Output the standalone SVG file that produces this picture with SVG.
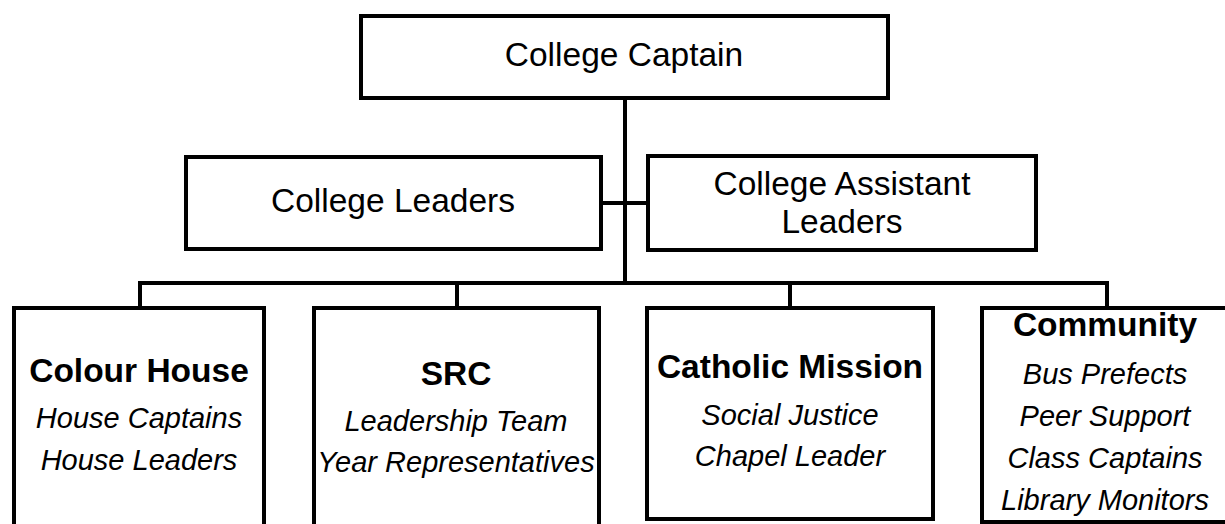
<svg xmlns="http://www.w3.org/2000/svg" width="1225" height="524" viewBox="0 0 1225 524">
<style>
.box{fill:#fff;stroke:#000;stroke-width:4}
.ln{stroke:#000;stroke-width:4;fill:none}
.t{font-family:"Liberation Sans",Arial,sans-serif;font-size:33.5px;fill:#000;text-anchor:middle}
.h{font-family:"Liberation Sans",Arial,sans-serif;font-size:33.5px;font-weight:bold;fill:#000;text-anchor:middle}
.i{font-family:"Liberation Sans",Arial,sans-serif;font-size:29px;font-style:italic;fill:#000;text-anchor:middle}
</style>
<rect width="1225" height="524" fill="#fff"/>
<g id="connectors">
<path class="ln" d="M625 97V283"/>
<path class="ln" d="M601 203H648"/>
<path class="ln" d="M140 308V283H1107V308"/>
<path class="ln" d="M457 283V308"/>
<path class="ln" d="M790 283V308"/>
</g>
<g id="college-captain">
<rect class="box" x="361" y="16" width="527" height="82"/>
<text class="t" x="624" y="66">College Captain</text>
</g>
<g id="college-leaders">
<rect class="box" x="186" y="157" width="415" height="92"/>
<text class="t" x="393" y="212">College Leaders</text>
</g>
<g id="college-assistant-leaders">
<rect class="box" x="648" y="156" width="388" height="94"/>
<text class="t" x="842" y="195">College Assistant</text>
<text class="t" x="842" y="233">Leaders</text>
</g>
<g id="colour-house">
<rect class="box" x="14" y="308" width="250" height="230"/>
<text class="h" x="139" y="382">Colour House</text>
<text class="i" x="139" y="428">House Captains</text>
<text class="i" x="139" y="470">House Leaders</text>
</g>
<g id="src">
<rect class="box" x="314" y="308" width="285" height="230"/>
<text class="h" x="456" y="385">SRC</text>
<text class="i" x="456" y="431">Leadership Team</text>
<text class="i" x="456" y="472">Year Representatives</text>
</g>
<g id="catholic-mission">
<rect class="box" x="647" y="308" width="286" height="211"/>
<text class="h" x="790" y="378">Catholic Mission</text>
<text class="i" x="790" y="425">Social Justice</text>
<text class="i" x="790" y="466">Chapel Leader</text>
</g>
<g id="community">
<rect class="box" x="982" y="308" width="260" height="214"/>
<text class="h" x="1105" y="336">Community</text>
<text class="i" x="1105" y="384">Bus Prefects</text>
<text class="i" x="1105" y="426">Peer Support</text>
<text class="i" x="1105" y="468">Class Captains</text>
<text class="i" x="1105" y="510">Library Monitors</text>
</g>
</svg>
